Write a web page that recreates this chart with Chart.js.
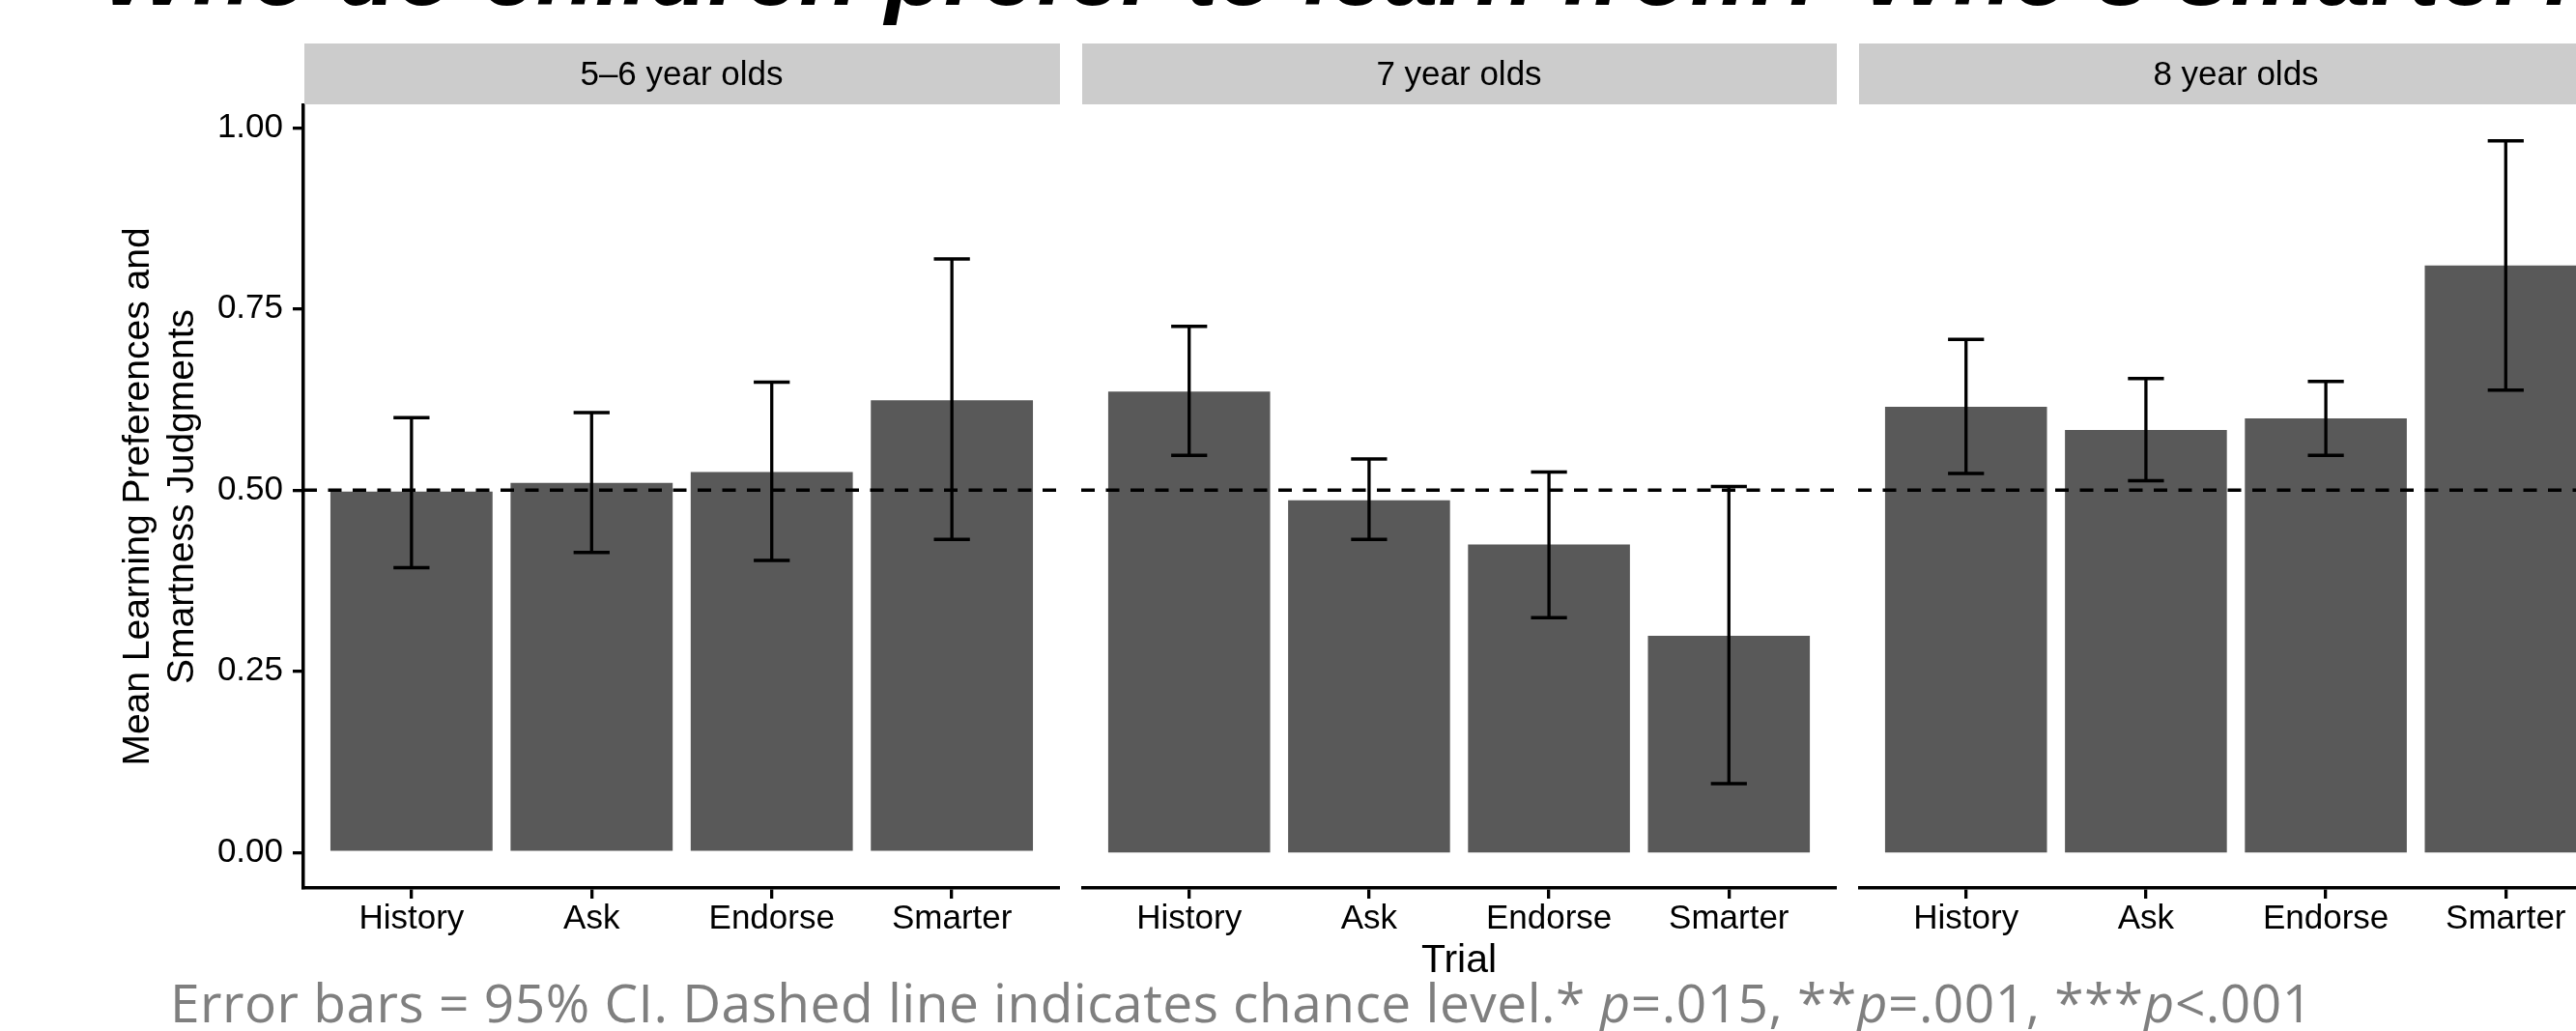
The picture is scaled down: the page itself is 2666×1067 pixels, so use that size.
<!DOCTYPE html>
<html>
<head>
<meta charset="utf-8">
<script src="https://cdn.jsdelivr.net/npm/chart.js@4"></script>
<style>
  html, body { margin: 0; padding: 0; background: #fff; width: 2666px; height: 1067px; overflow: hidden; }
  .panel { position: absolute; top: 0; height: 1067px; }
  #slideTitle {
    position: absolute; left: 105px; top: -80px; white-space: nowrap;
    font: italic bold 100px/1 "Liberation Sans", Arial, sans-serif; color: #000;
  }
  #note {
    position: absolute; left: 176px; top: 1009px; white-space: nowrap; letter-spacing: 0.5px;
    font: 55px/1 "Open Sans", Lato, sans-serif; color: #7f7f7f;
  }
</style>
</head>
<body>
<div id="slideTitle">Who do children prefer to learn from? Who’s smarter?</div>
<div class="panel" style="left:0; width:1097px"><canvas id="age56"></canvas></div>
<div class="panel" style="left:1119px; width:782px"><canvas id="age7"></canvas></div>
<div class="panel" style="left:1923px; width:782px"><canvas id="age8"></canvas></div>
<div id="note">Error bars = 95% CI. Dashed line indicates chance level.* <i>p</i>=.015, **<i>p</i>=.001, ***<i>p</i>&lt;.001</div>

<script>
// Data block
const trials = ['History', 'Ask', 'Endorse', 'Smarter'];
const ageGroups = ['5–6 year olds', '7 year olds', '8 year olds'];

// means and 95% CI bounds, one array per age group
const means56 = [0.498, 0.510, 0.525, 0.624];
const lower56 = [0.393, 0.414, 0.403, 0.432];
const upper56 = [0.600, 0.607, 0.649, 0.819];

const means7 = [0.636, 0.486, 0.425, 0.299];
const lower7 = [0.548, 0.432, 0.324, 0.095];
const upper7 = [0.726, 0.543, 0.525, 0.505];

const means8 = [0.615, 0.583, 0.599, 0.810];
const lower8 = [0.523, 0.513, 0.548, 0.638];
const upper8 = [0.708, 0.654, 0.650, 0.982];

const yTicks = [0, 0.25, 0.5, 0.75, 1];
const chanceLevel = 0.5;

const FONT = '"Liberation Sans", Arial, Helvetica, sans-serif';

// Grey strip with the facet label above each panel
const stripPlugin = (label) => ({
    id: 'facetStrip',
    afterDraw(chart) {
        const {ctx, chartArea} = chart;
        ctx.save();
        ctx.fillStyle = '#cccccc';
        ctx.fillRect(chartArea.left + 1, chartArea.top - 64, chartArea.right - chartArea.left - 1, 63);
        ctx.fillStyle = '#000';
        ctx.font = '35px ' + FONT;
        ctx.textAlign = 'center';
        ctx.textBaseline = 'middle';
        ctx.fillText(label, (chartArea.left + chartArea.right) / 2, chartArea.top - 31);
        ctx.restore();
    }
});

// Error bars + dashed chance line, drawn on top of the bars
const errorBarPlugin = (lower, upper) => ({
    id: 'errorBars',
    afterDatasetsDraw(chart) {
        const {ctx, chartArea, scales: {x, y}} = chart;
        const half = (x.getPixelForValue(1) - x.getPixelForValue(0)) * 0.1;
        ctx.save();
        ctx.strokeStyle = '#000';
        ctx.lineWidth = 3.3;
        lower.forEach((lo, i) => {
            const px = x.getPixelForValue(i);
            const yl = y.getPixelForValue(lo);
            const yh = y.getPixelForValue(upper[i]);
            ctx.beginPath();
            ctx.moveTo(px, yl); ctx.lineTo(px, yh);
            ctx.moveTo(px - half, yl); ctx.lineTo(px + half, yl);
            ctx.moveTo(px - half, yh); ctx.lineTo(px + half, yh);
            ctx.stroke();
        });
        const yc = y.getPixelForValue(chanceLevel);
        ctx.setLineDash([14, 11.5]);
        ctx.lineWidth = 3.5;
        ctx.beginPath();
        ctx.moveTo(chartArea.left, yc);
        ctx.lineTo(chartArea.right, yc);
        ctx.stroke();
        ctx.restore();
    }
});

function makePanel(canvasId, label, means, lower, upper, showY, showXTitle) {
    const config = {
        type: 'bar',
        data: {
            datasets: [{
                data: means.map((v, i) => ({x: i, y: v})),
                backgroundColor: '#595959',
                borderWidth: 0,
                categoryPercentage: 1,
                barPercentage: 0.9
            }]
        },
        options: {
            responsive: true,
            maintainAspectRatio: false,
            animation: false,
            layout: {padding: {top: 109, left: 0, right: 0, bottom: 0}},
            plugins: {
                legend: {display: false},
                tooltip: {enabled: false}
            },
            scales: {
                x: {
                    type: 'linear',
                    min: -0.6,
                    max: 3.6,
                    offset: false,
                    afterBuildTicks: (s) => { s.ticks = trials.map((t, i) => ({value: i})); },
                    afterFit: (s) => { s.height = 148; },
                    grid: {offset: false, drawOnChartArea: false, drawTicks: true, tickLength: 11, color: '#000', lineWidth: 3.3},
                    border: {display: true, color: '#000', width: 3.5},
                    ticks: {
                        autoSkip: false,
                        maxRotation: 0,
                        padding: 4,
                        color: '#000',
                        font: {family: FONT, size: 35, lineHeight: 1},
                        callback: (v) => trials[v]
                    },
                    title: {
                        display: showXTitle,
                        text: 'Trial',
                        color: '#000',
                        font: {family: FONT, size: 41, lineHeight: 1},
                        padding: {top: 0, bottom: 52}
                    }
                },
                y: {
                    display: showY,
                    min: -0.049,
                    max: 1.031,
                    afterBuildTicks: (s) => { s.ticks = yTicks.map(v => ({value: v})); },
                    afterFit: (s) => { if (showY) s.width = 314; },
                    grid: {drawOnChartArea: false, drawTicks: true, tickLength: 11, color: '#000', lineWidth: 3.3},
                    border: {display: true, color: '#000', width: 3.5},
                    ticks: {
                        padding: 10,
                        color: '#000',
                        font: {family: FONT, size: 35, lineHeight: 1},
                        callback: (v) => v.toFixed(2)
                    },
                    title: {
                        display: true,
                        text: ['Mean Learning Preferences and', 'Smartness Judgments'],
                        color: '#000',
                        font: {family: FONT, size: 39, lineHeight: 1.18},
                        padding: {top: 120, bottom: 0}
                    }
                }
            }
        },
        plugins: [stripPlugin(label), errorBarPlugin(lower, upper)]
    };
    return new Chart(document.getElementById(canvasId), config);
}

const chart56 = makePanel('age56', ageGroups[0], means56, lower56, upper56, true, false);
const chart7 = makePanel('age7', ageGroups[1], means7, lower7, upper7, false, true);
const chart8 = makePanel('age8', ageGroups[2], means8, lower8, upper8, false, false);
</script>
</body>
</html>
